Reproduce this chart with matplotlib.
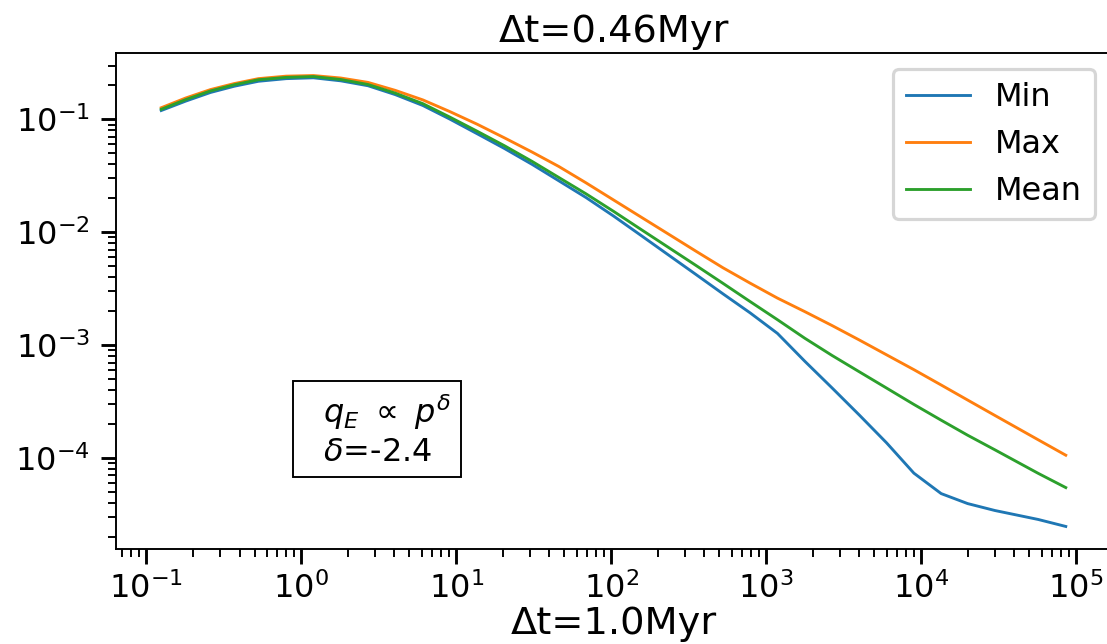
import matplotlib
matplotlib.use("Agg")
import matplotlib.pyplot as plt

# data
x = [0.125, 0.18, 0.26, 0.37, 0.53, 0.8, 1.2, 1.8, 2.7, 4.05,
     6.1, 9.1, 13.7, 20.5, 31, 46, 69, 104, 156, 234,
     351, 527, 790, 1185, 1780, 2670, 4000, 6000, 9000, 13500,
     20000, 30000, 57000, 86000]

y_min = [0.120, 0.1455, 0.1735, 0.197, 0.218, 0.230, 0.234, 0.220, 0.199, 0.166,
         0.133, 0.1008, 0.0746, 0.0553, 0.0399, 0.0286, 0.0203, 0.0139, 0.00938, 0.00631,
         0.00425, 0.00285, 0.00193, 0.00127, 0.000719, 0.000417, 0.000240, 0.000136, 7.33e-5, 4.83e-5,
         3.94e-5, 3.42e-5, 2.85e-5, 2.47e-5]

y_max = [0.127, 0.155, 0.184, 0.208, 0.230, 0.242, 0.245, 0.233, 0.213, 0.181,
         0.149, 0.1175, 0.0906, 0.0687, 0.0513, 0.0383, 0.0274, 0.0193, 0.01365, 0.00966,
         0.00683, 0.00485, 0.00354, 0.00261, 0.00198, 0.00149, 0.00111, 0.00082, 0.000606, 0.000443,
         0.000326, 0.000238, 0.000145, 0.0001057]

y_mean = [0.123, 0.150, 0.179, 0.203, 0.225, 0.236, 0.240, 0.226, 0.204, 0.171,
          0.138, 0.105, 0.0785, 0.0585, 0.0424, 0.0306, 0.0219, 0.0153, 0.0106, 0.00736,
          0.00511, 0.00353, 0.00243, 0.00168, 0.00115, 0.000809, 0.000580, 0.000416, 0.000298, 0.000216,
          0.000159, 0.000118, 7.31e-5, 5.46e-5]

labels = ["Min", "Max", "Mean"]

dpi = 230
fig = plt.figure(figsize=(1107 / dpi, 644 / dpi), dpi=dpi)
ax = fig.add_axes([116 / 1107, 95 / 644, 995 / 1107, 496 / 644])

for ys, lab in zip([y_min, y_max, y_mean], labels):
    ax.plot(x, ys, label=lab, lw=0.9)

ax.set_xscale("log")
ax.set_yscale("log")

ax.tick_params(which="major", length=4.7, width=0.9)
ax.tick_params(which="minor", length=2.5, width=0.6)
ax.tick_params(axis="x", pad=2.5)
for sp in ax.spines.values():
    sp.set_linewidth(0.6)

ax.set_title("Δt=0.46Myr", fontsize=12, pad=3.5)
ax.set_xlabel("Δt=1.0Myr", fontsize=12, labelpad=0.3)

ax.legend(loc="upper right")

ax.text(0.188, 0.164, "  $q_E\\ \\propto\\ p^{\\delta}$\n  $\\delta$=-2.4",
        transform=ax.transAxes, ha="left", va="bottom", fontsize=10,
        bbox=dict(boxstyle="square", facecolor="white", edgecolor="black", lw=0.6))

fig.savefig("out.png", dpi=dpi)
